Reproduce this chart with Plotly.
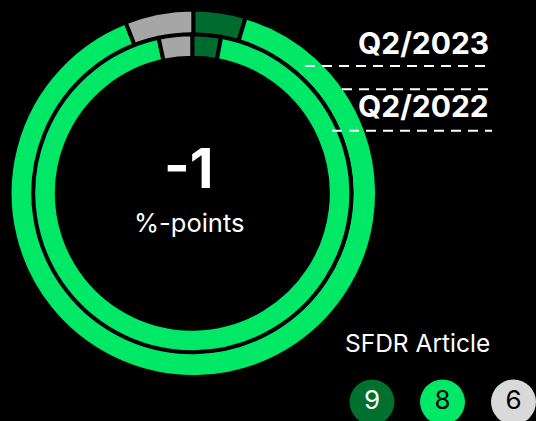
import plotly.graph_objects as go

# ---- data ----
articles = ["9", "8", "6"]
q2_2023 = [4.6, 89.4, 6.0]   # outer ring (%)
q2_2022 = [2.9, 93.7, 3.4]   # inner ring (%)
period_labels = ["Q2/2023", "Q2/2022"]
center_value = "-1"
center_unit = "%-points"
legend_title = "SFDR Article"

ring_colors = ["#006B2E", "#00E865", "#A6A6A6"]
legend_colors = ["#00702F", "#00E865", "#D9D9D9"]
legend_text_colors = ["#FFFFFF", "#000000", "#000000"]

W, H = 536, 421
FONT = "Inter"
SEP = 4  # separator width (px)


def dom(cx, cy, r):
    return dict(x=[(cx - r) / W, (cx + r) / W], y=[1 - (cy + r) / H, 1 - (cy - r) / H])


fig = go.Figure()

# outer ring: Q2/2023
R_o, r_o = 181.7 + SEP / 2, 160.2 - SEP / 2
fig.add_trace(go.Pie(
    labels=articles, values=q2_2023, sort=False, direction="clockwise", rotation=0,
    hole=r_o / R_o, domain=dom(193.3, 193.3, R_o), textinfo="none",
    marker=dict(colors=ring_colors, line=dict(color="#000000", width=SEP)),
    showlegend=False, name=period_labels[0],
))
# inner ring: Q2/2022
R_i, r_i = 157 + SEP / 2, 137.5 - SEP / 2
fig.add_trace(go.Pie(
    labels=articles, values=q2_2022, sort=False, direction="clockwise", rotation=0,
    hole=r_i / R_i, domain=dom(192.3, 193.2, R_i), textinfo="none",
    marker=dict(colors=ring_colors, line=dict(color="#000000", width=SEP)),
    showlegend=False, name=period_labels[1],
))

# legend circles
fig.add_trace(go.Scatter(
    x=[372, 442.5, 513.5], y=[402, 402, 402], mode="markers+text",
    marker=dict(size=45, color=legend_colors, line=dict(width=0)),
    text=articles, textposition="middle center",
    textfont=dict(family=FONT, size=26, color=legend_text_colors),
    hoverinfo="skip", showlegend=False, cliponaxis=False,
))

dash = "10px,7px"
for (x0, x1, y) in [(305, 492, 66), (342, 489, 89.3), (332, 492, 130.7)]:
    fig.add_shape(type="line", x0=x0, x1=x1, y0=y, y1=y, xref="x", yref="y",
                  line=dict(color="#FFFFFF", width=2, dash=dash), layer="above")

ann = [
    dict(text=f"<b>{period_labels[0]}</b>", x=491, y=42.5, size=30, xanchor="right"),
    dict(text=f"<b>{period_labels[1]}</b>", x=491, y=106, size=30, xanchor="right"),
    dict(text=f"<b>{center_value}</b>", x=188, y=168, size=55, xanchor="center"),
    dict(text=center_unit, x=188.5, y=222, size=25.5, xanchor="center"),
    dict(text=legend_title, x=492, y=342.5, size=24.5, xanchor="right"),
]
for a in ann:
    fig.add_annotation(text=a["text"], x=a["x"], y=a["y"], xref="x", yref="y",
                       xanchor=a["xanchor"], yanchor="middle", showarrow=False,
                       font=dict(family=FONT, size=a["size"], color="#FFFFFF"))

fig.update_xaxes(range=[0, W], visible=False, fixedrange=True)
fig.update_yaxes(range=[H, 0], visible=False, fixedrange=True)
fig.update_layout(
    width=W, height=H, margin=dict(l=0, r=0, t=0, b=0),
    paper_bgcolor="#000000", plot_bgcolor="#000000",
    font=dict(family=FONT, color="#FFFFFF"),
)

fig.write_html(
    "out.html",
    config={"displayModeBar": False},
    post_script="document.body.style.margin='0';document.body.style.overflow='hidden';document.body.style.background='#000';",
)
